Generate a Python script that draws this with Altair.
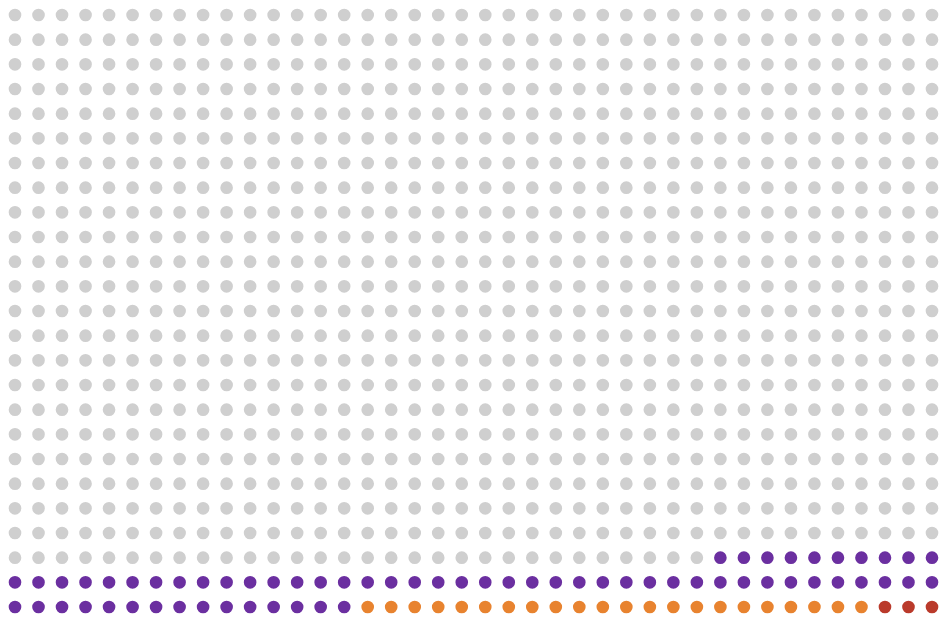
import altair as alt
import pandas as pd

# Waffle: 40 columns x 25 rows = 1000 dots, filled serpentine from bottom-right
categories = ["red", "orange", "purple", "gray"]
counts = [3, 22, 65, 910]
colors = ["#BA3A2B", "#E8832F", "#6B2FA0", "#CFCFCF"]
n_cols = 40
n_rows = 25

rows = []
idx = 0
for cat, cnt in zip(categories, counts):
    for _ in range(cnt):
        r = idx // n_cols
        k = idx % n_cols
        # row 0 goes right-to-left, row 1 left-to-right, ...
        c = (n_cols - 1 - k) if r % 2 == 0 else k
        rows.append({"col": c, "row": r, "cat": cat})
        idx += 1
df = pd.DataFrame(rows)

chart = alt.Chart(df).mark_circle(size=160, opacity=1).encode(
    x=alt.X("col:Q", scale=alt.Scale(domain=[0, n_cols - 1], range=[7, 924]), axis=None),
    y=alt.Y("row:Q", scale=alt.Scale(domain=[0, n_rows - 1], range=[599, 7]), axis=None),
    color=alt.Color("cat:N", scale=alt.Scale(domain=categories, range=colors), legend=None),
).properties(
    width=931, height=606, padding=0, autosize="none"
).configure_view(stroke=None)

chart.save("out.html", embed_options={"renderer": "svg", "actions": False})
